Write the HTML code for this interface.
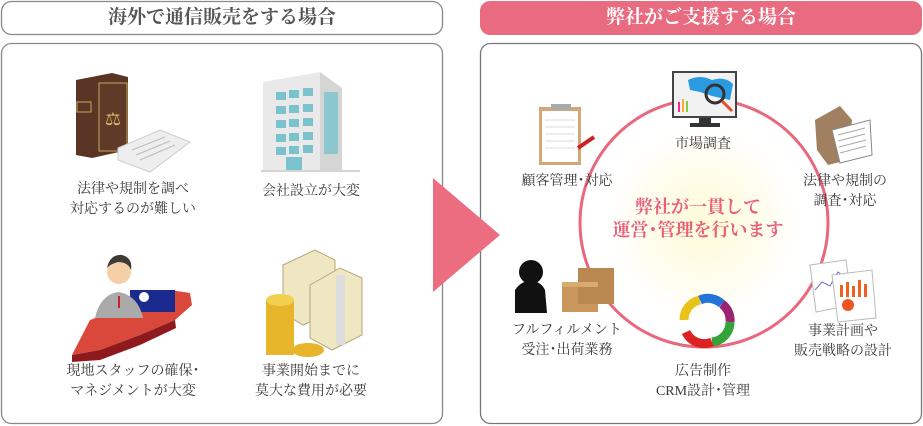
<!DOCTYPE html>
<html><head><meta charset="utf-8"><style>
html,body{margin:0;padding:0;background:#fff;width:923px;height:426px;overflow:hidden}
body{position:relative;font-family:"Liberation Serif","Noto Serif CJK SC",serif}
.t{position:absolute;text-align:center;color:#3a3a3a;font-size:14px;line-height:20px;white-space:nowrap;transform:translateX(-50%)}
</style></head><body>
<svg width="923" height="426" style="position:absolute;left:0;top:0">
<defs>
<radialGradient id="g" cx="0.5" cy="0.5" r="0.5"><stop offset="0" stop-color="#fffbd8"/><stop offset="0.6" stop-color="#fffdf0"/><stop offset="1" stop-color="#fff" stop-opacity="0"/></radialGradient>
</defs>
<rect x="1.5" y="1.5" width="441" height="33" rx="10" fill="#fff" stroke="#888" stroke-width="1.3"/>
<rect x="1.5" y="43.5" width="441" height="380" rx="10" fill="#fff" stroke="#888" stroke-width="1.3"/>
<rect x="480" y="1" width="442" height="34" rx="10" fill="#e96b80"/>
<rect x="480.5" y="43.5" width="441" height="380" rx="10" fill="#fff" stroke="#777" stroke-width="1.3"/>
<polygon points="433,178 500,235 433,292" fill="#ec6c80"/>
<circle cx="704" cy="223" r="110" fill="url(#g)"/>
<circle cx="704" cy="223" r="124" fill="none" stroke="#e8687d" stroke-width="3"/>

<g>
<polygon points="76,80 112,73 128,77 128,150 92,158 76,155" fill="#5a3526"/>
<rect x="99" y="83" width="28" height="68" fill="#5f3a28" stroke="#c9a65a" stroke-width="1"/>
<rect x="77" y="102" width="14" height="10" fill="none" stroke="#c9a65a"/>
<text x="113" y="125" font-size="18" fill="#d7b668" text-anchor="middle">⚖</text>
<polygon points="118,148 160,130 190,142 150,172 118,160" fill="#eee" stroke="#ccc"/>
<g stroke="#bbb"><line x1="132" y1="150" x2="165" y2="137"/><line x1="136" y1="155" x2="170" y2="141"/><line x1="140" y1="160" x2="175" y2="145"/></g>
</g>
<g>
<polygon points="263,82 320,72 342,88 342,170 263,170" fill="#e9e9e9"/>
<polygon points="320,72 342,88 342,170 320,170" fill="#d5d5d5"/>
<g fill="#7ac3cc">
<rect x="276" y="92" width="10" height="8"/><rect x="289" y="90" width="10" height="8"/><rect x="303" y="88" width="10" height="8"/>
<rect x="276" y="106" width="10" height="8"/><rect x="289" y="105" width="10" height="8"/><rect x="303" y="104" width="10" height="8"/>
<rect x="276" y="120" width="10" height="8"/><rect x="289" y="119" width="10" height="8"/><rect x="303" y="118" width="10" height="8"/>
<rect x="276" y="134" width="10" height="8"/><rect x="289" y="133" width="10" height="8"/><rect x="303" y="132" width="10" height="8"/>
<rect x="276" y="147" width="10" height="8"/><rect x="289" y="146" width="10" height="8"/><rect x="303" y="145" width="10" height="8"/>
<rect x="324" y="92" width="14" height="62" opacity="0.8"/>
<rect x="286" y="157" width="16" height="13"/>
</g>
<line x1="261" y1="171" x2="360" y2="171" stroke="#aaa"/>
</g>
<g>
<path d="M72,355 L90,320 L130,305 L170,290 L190,293 L192,305 L175,320 L140,335 L100,350 Z" fill="#d9483b"/>
<path d="M72,355 L100,350 L140,335 L175,320 L176,328 L140,345 L100,360 L72,362Z" fill="#8e1a1e"/>
<rect x="130" y="290" width="45" height="22" fill="#1b2a8f"/>
<circle cx="144" cy="297" r="5" fill="#fff"/>
<path d="M95,318 Q100,295 118,292 Q138,295 143,318 Z" fill="#aaa"/>
<circle cx="119" cy="272" r="12" fill="#f5cfa5"/>
<path d="M107,268 Q110,254 122,255 Q133,258 131,270 Q128,262 118,262 Q110,264 107,268Z" fill="#3e3a35"/>
<line x1="119" y1="296" x2="119" y2="308" stroke="#c22" stroke-width="2"/>
</g>
<g>
<polygon points="283,265 315,250 335,260 335,310 303,325 283,313" fill="#efe6c2" stroke="#b5a77a"/>
<polygon points="310,285 340,268 362,278 362,335 332,350 310,338" fill="#efe6c2" stroke="#b5a77a"/>
<rect x="336" y="275" width="9" height="70" fill="#ddd"/>
<rect x="266" y="300" width="28" height="55" fill="#e6b52a"/>
<ellipse cx="280" cy="300" rx="14" ry="6" fill="#f3cf4f"/>
<ellipse cx="308" cy="350" rx="16" ry="7" fill="#e6b52a"/>
</g>

<g>
<rect x="673" y="72" width="63" height="45" fill="#f2f2f2" stroke="#444" stroke-width="2"/>
<path d="M688,80 Q700,74 712,80 Q725,76 733,84 L730,100 L712,96 L700,92 L690,90Z" fill="#2a9be0"/>
<circle cx="715" cy="94" r="9" fill="none" stroke="#333" stroke-width="3"/>
<line x1="722" y1="101" x2="732" y2="111" stroke="#e84a2a" stroke-width="3"/>
<rect x="678" y="102" width="2" height="10" fill="#f28"/><rect x="682" y="99" width="2" height="13" fill="#fa3"/><rect x="686" y="101" width="2" height="11" fill="#8c4"/>
<rect x="699" y="118" width="12" height="5" fill="#333"/><rect x="690" y="123" width="30" height="4" fill="#333"/>
</g>
<g>
<rect x="539" y="107" width="42" height="58" fill="#d4a876"/>
<rect x="542" y="111" width="36" height="51" fill="#fff"/>
<rect x="551" y="104" width="20" height="6" fill="#aaa"/>
<g stroke="#ddd"><line x1="545" y1="120" x2="575" y2="120"/><line x1="545" y1="127" x2="575" y2="127"/><line x1="545" y1="134" x2="575" y2="134"/><line x1="545" y1="141" x2="575" y2="141"/><line x1="545" y1="148" x2="575" y2="148"/></g>
<line x1="578" y1="148" x2="594" y2="137" stroke="#c22" stroke-width="4"/>
</g>
<g>
<polygon points="815,120 840,106 852,120 848,160 828,165 817,150" fill="#a08060"/>
<polygon points="832,130 870,120 872,155 840,163" fill="#fff" stroke="#888"/>
<g stroke="#aaa"><line x1="838" y1="135" x2="865" y2="128"/><line x1="838" y1="141" x2="865" y2="134"/><line x1="839" y1="147" x2="866" y2="140"/><line x1="840" y1="153" x2="866" y2="146"/></g>
</g>
<g>
<path d="M515,313 L515,290 Q522,280 530,282 Q540,280 545,290 L547,313Z" fill="#111"/>
<circle cx="531" cy="272" r="12" fill="#111"/>
<rect x="562" y="282" width="36" height="30" fill="#c9975c"/>
<rect x="578" y="268" width="36" height="36" fill="#b98850"/>
<rect x="562" y="282" width="36" height="5" fill="#d7aa70"/>
</g>
<g stroke-width="9" fill="none">
<path d="M684,320 A20,20 0 0 1 700,300" stroke="#e8c41a"/>
<path d="M700,300 A20,20 0 0 1 722,304" stroke="#2373d8"/>
<path d="M722,304 A20,20 0 0 1 730,322" stroke="#9b2370"/>
<path d="M730,322 A20,20 0 0 1 712,342" stroke="#33a33a"/>
<path d="M712,342 A20,20 0 0 1 686,332" stroke="#dd2222"/>
</g>
<g>
<polygon points="810,265 846,260 852,305 816,312" fill="#fff" stroke="#bbb"/>
<polyline points="815,290 822,282 830,286 838,272 846,278" stroke="#7a6ad0" fill="none"/>
<polygon points="832,275 872,270 876,318 838,322" fill="#fff" stroke="#bbb"/>
<g fill="#f06020"><rect x="840" y="285" width="3" height="12"/><rect x="846" y="282" width="3" height="15"/><rect x="852" y="286" width="3" height="11"/><rect x="858" y="280" width="3" height="17"/><rect x="864" y="284" width="3" height="13"/></g>
<circle cx="848" cy="305" r="6" fill="#e52"/>
</g>
</svg>

<div class="t" style="left:222px;top:5px;font-size:19px;line-height:26px;color:#555;font-weight:bold">海外で通信販売をする場合</div>
<div class="t" style="left:701px;top:5px;font-size:19px;line-height:26px;color:#fff;font-weight:bold">弊社がご支援する場合</div>

<div class="t" style="left:133px;top:180px">法律や規制を調べ<br>対応するのが難しい</div>
<div class="t" style="left:311px;top:182px">会社設立が大変</div>
<div class="t" style="left:133px;top:362px">現地スタッフの確保･<br>マネジメントが大変</div>
<div class="t" style="left:311px;top:362px">事業開始までに<br>莫大な費用が必要</div>

<div class="t" style="left:703px;top:135px">市場調査</div>
<div class="t" style="left:567px;top:172px">顧客管理･対応</div>
<div class="t" style="left:845px;top:172px">法律や規制の<br>調査･対応</div>
<div class="t" style="left:698px;top:196px;font-size:18px;line-height:23px;color:#e8607a;font-weight:bold">弊社が一貫して<br>運営･管理を行います</div>
<div class="t" style="left:567px;top:321px">フルフィルメント<br>受注･出荷業務</div>
<div class="t" style="left:703px;top:362px">広告制作<br>CRM設計･管理</div>
<div class="t" style="left:843px;top:322px">事業計画や<br>販売戦略の設計</div>
</body></html>
